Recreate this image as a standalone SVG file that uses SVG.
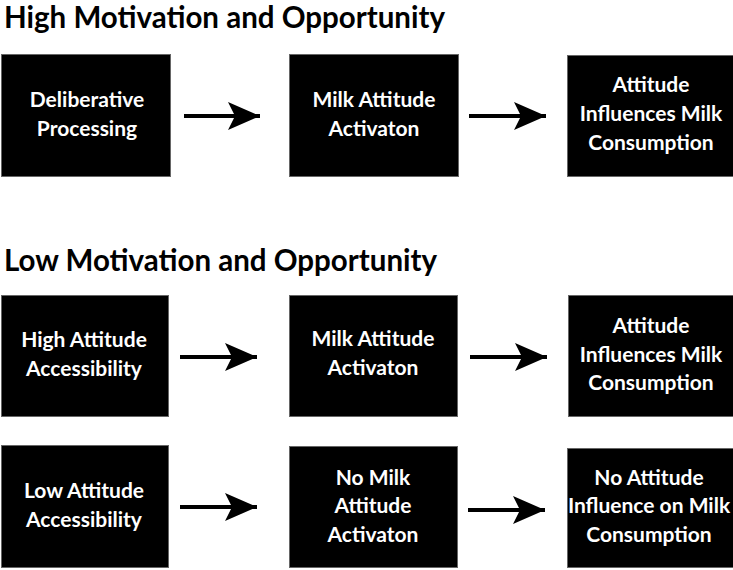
<svg xmlns="http://www.w3.org/2000/svg" width="733" height="570" viewBox="0 0 733 570">
  <style>
    .title { font-family: Lato, "Open Sans", sans-serif; font-weight: bold; font-size: 29.5px; fill: #000; }
    .box { fill: #000; stroke: #666; stroke-width: 1; }
    .lbl { font-family: Lato, "Open Sans", sans-serif; font-weight: bold; font-size: 21px; fill: #fff; text-anchor: middle; }
    .conn { stroke: #000; stroke-width: 4; fill: none; marker-end: url(#head); }
  </style>
  <defs>
    <marker id="head" markerUnits="userSpaceOnUse" markerWidth="34" markerHeight="30" viewBox="0 0 34 30" refX="32" refY="15" orient="auto">
      <path d="M32,15 L0,1 L7,15 L0,29 Z" fill="#000"/>
    </marker>
  </defs>
  <rect width="733" height="570" fill="#fff"/>

  <text class="title" x="4" y="28">High Motivation and Opportunity</text>
  <text class="title" x="4" y="271">Low Motivation and Opportunity</text>

  <!-- high motivation row -->
  <g id="deliberative">
    <rect class="box" x="1.5" y="54.5" width="169" height="122"/>
    <text class="lbl" x="87" y="107">Deliberative</text>
    <text class="lbl" x="87" y="136">Processing</text>
  </g>
  <g id="activation-1">
    <rect class="box" x="289.5" y="54.5" width="169" height="122"/>
    <text class="lbl" x="374" y="107">Milk Attitude</text>
    <text class="lbl" x="374" y="136">Activaton</text>
  </g>
  <g id="influence-1">
    <rect class="box" x="567.5" y="55.5" width="170" height="121"/>
    <text class="lbl" x="651" y="92">Attitude</text>
    <text class="lbl" x="651" y="121">Influences Milk</text>
    <text class="lbl" x="651" y="150">Consumption</text>
  </g>

  <!-- low motivation, high accessibility row -->
  <g id="high-access">
    <rect class="box" x="1.5" y="295.5" width="167" height="121"/>
    <text class="lbl" x="84" y="347">High Attitude</text>
    <text class="lbl" x="84" y="376">Accessibility</text>
  </g>
  <g id="activation-2">
    <rect class="box" x="289.5" y="295.5" width="168" height="121"/>
    <text class="lbl" x="373" y="346">Milk Attitude</text>
    <text class="lbl" x="373" y="375">Activaton</text>
  </g>
  <g id="influence-2">
    <rect class="box" x="568.5" y="295.5" width="170" height="121"/>
    <text class="lbl" x="651" y="333">Attitude</text>
    <text class="lbl" x="651" y="362">Influences Milk</text>
    <text class="lbl" x="651" y="390">Consumption</text>
  </g>

  <!-- low motivation, low accessibility row -->
  <g id="low-access">
    <rect class="box" x="1.5" y="445.5" width="167" height="122"/>
    <text class="lbl" x="84" y="498">Low Attitude</text>
    <text class="lbl" x="84" y="527">Accessibility</text>
  </g>
  <g id="no-activation">
    <rect class="box" x="289.5" y="446.5" width="168" height="121"/>
    <text class="lbl" x="373" y="485">No Milk</text>
    <text class="lbl" x="373" y="513">Attitude</text>
    <text class="lbl" x="373" y="542">Activaton</text>
  </g>
  <g id="no-influence">
    <rect class="box" x="567.5" y="448.5" width="170" height="119"/>
    <text class="lbl" x="649" y="485">No Attitude</text>
    <text class="lbl" x="649" y="513">Influence on Milk</text>
    <text class="lbl" x="649" y="542">Consumption</text>
  </g>

  <g id="connectors">
    <line class="conn" x1="184" y1="116" x2="260" y2="116"/>
    <line class="conn" x1="469" y1="116" x2="546" y2="116"/>
    <line class="conn" x1="180" y1="357" x2="257" y2="357"/>
    <line class="conn" x1="470" y1="357" x2="547" y2="357"/>
    <line class="conn" x1="180" y1="507" x2="257" y2="507"/>
    <line class="conn" x1="468" y1="510" x2="545" y2="510"/>
  </g>
</svg>
